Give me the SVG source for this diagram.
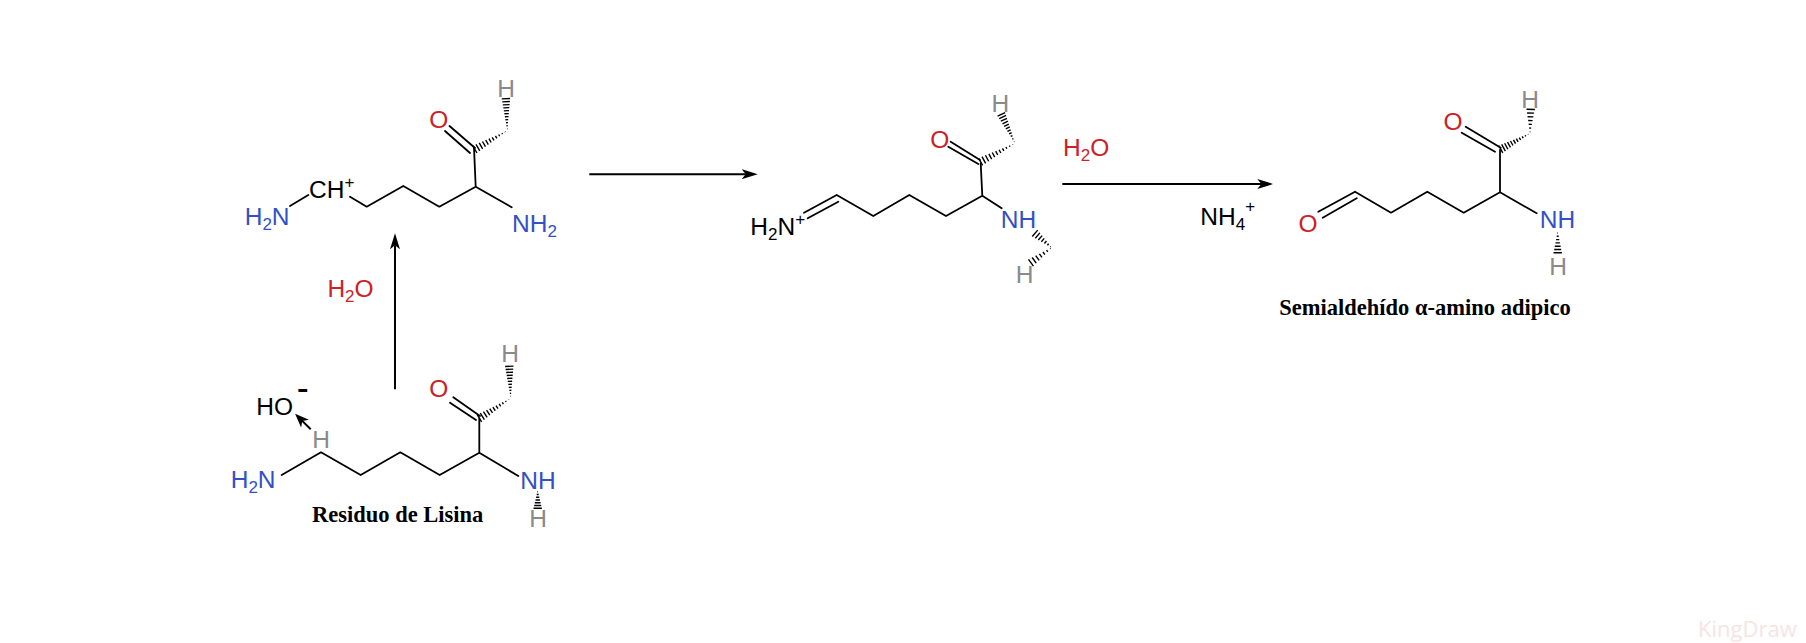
<svg xmlns="http://www.w3.org/2000/svg" width="1806" height="643" viewBox="0 0 1806 643">
<style>
text{font-family:"Liberation Sans",Arial,sans-serif;font-size:24.5px;fill:#000}
.b{fill:#3450c4}.r{fill:#cc2127}.g{fill:#8a8a8a}
.c{text-anchor:middle}
.s{font-size:17px}
.cap{font-family:"Liberation Serif","Times New Roman",serif;font-weight:bold;font-size:22.5px}
.bond{fill:none;stroke:#000;stroke-width:1.8;stroke-linejoin:round;stroke-linecap:round}
.conn{fill:none;stroke:#000;stroke-width:2}
.h{fill:none;stroke:#000;stroke-width:1.4;vector-effect:non-scaling-stroke}
</style>
<defs>
<path id="hash" class="h" d="M2-.2V.2M5-.6V.6M8-1V1M11-1.4V1.4M14-1.8V1.8M17-2.2V2.2M20-2.6V2.6M23-3V3M26-3.4V3.4M29-3.8V3.8M32-4.2V4.2"/>
<path id="hash-s" class="h" d="M2-.3V.3M7-1V1M12-1.6V1.6M17-2.2V2.2M22-2.9V2.9M27-3.5V3.5M32-4.2V4.2"/>
<marker id="ah" markerUnits="userSpaceOnUse" markerWidth="16" markerHeight="10" viewBox="0 0 16 10" refX="4" refY="5" orient="auto"><path d="M0,0L16,5L0,10L4,5z" fill="#000"/></marker>
<marker id="as" markerUnits="userSpaceOnUse" markerWidth="14" markerHeight="11" viewBox="0 0 14 11" refX="4" refY="5.5" orient="auto"><path d="M0,0L14,5.5L0,11L4,5.5z" fill="#000"/></marker>
</defs>
<rect width="1806" height="643" fill="#fff"/>

<g id="connectors">
<line class="conn" x1="395" y1="389.3" x2="395" y2="245.3" marker-end="url(#ah)"/>
<line class="conn" x1="589.3" y1="174.2" x2="745.7" y2="174.2" marker-end="url(#ah)"/>
<line class="conn" x1="1062.3" y1="184" x2="1261.3" y2="184" marker-end="url(#ah)"/>
<line class="conn" x1="310.7" y1="429.3" x2="302.2" y2="420.9" marker-end="url(#as)"/>
</g>

<g id="lisina">
<path class="bond" d="M281.7,475L321,452.3L360.7,475L400.3,452.3L439.7,475L479.3,452.7L518.3,476M479.3,452.7V418.3M480,416L453.3,397.3M476,420L450,402.7"/>
<use href="#hash" transform="translate(510.7,398.3) rotate(147.5) scale(1.16,1)"/>
<use href="#hash" transform="translate(510.7,398.3) rotate(-92.5)"/>
<use href="#hash-s" transform="translate(537.7,490.7) rotate(90) scale(.55,1)"/>
<text x="230.7" y="488.3" class="b">H<tspan class="s" dy="5">2</tspan><tspan dy="-5">N</tspan></text>
<text x="321" y="448.3" class="g c">H</text>
<text x="438.7" y="396.7" class="r c">O</text>
<text x="510" y="362.3" class="g c">H</text>
<text x="520.3" y="489.3" class="b">NH</text>
<text x="538" y="527.3" class="g c">H</text>
<text x="312" y="521.7" class="cap">Residuo de Lisina</text>
</g>

<g id="hidroxido">
<text x="256.3" y="415">HO</text>
<text x="302.7" y="400" class="c" style="font-size:36px">-</text>
</g>

<g id="carbocation">
<path class="bond" d="M290,206L308.3,195M350,196.7L366.7,206.7L403.3,186L439.3,206.7L475.7,186.7L511.7,207.3M475.7,186.7L474,148M475,148L449.5,126M470,153L445,131"/>
<use href="#hash" transform="translate(507.3,130.7) rotate(150.1) scale(1.17,1)"/>
<use href="#hash" transform="translate(507.3,130.7) rotate(-92.4)"/>
<text x="244.7" y="225" class="b">H<tspan class="s" dy="5">2</tspan><tspan dy="-5">N</tspan></text>
<text x="309" y="198.3">CH<tspan class="s" dy="-10">+</tspan></text>
<text x="512" y="231.7" class="b">NH<tspan class="s" dy="5">2</tspan></text>
<text x="438.7" y="128.3" class="r c">O</text>
<text x="506" y="96.7" class="g c">H</text>
</g>

<g id="imina">
<path class="bond" d="M804,212.7L836.7,195M807.7,218.3L838.3,201.7M836.7,195L873.3,216L909.3,195L946,216L982.3,195.7L1001.7,208.3M982.3,195.7L980.7,163.3M980,160L950.7,141.7M978.3,164L948.3,146.7"/>
<use href="#hash" transform="translate(1015,143.3) rotate(151.8) scale(1.22,1)"/>
<use href="#hash" transform="translate(1015,143.3) rotate(-115.2)"/>
<use href="#hash-s" transform="translate(1051.7,247.7) rotate(-139.2) scale(.69,1)"/>
<use href="#hash-s" transform="translate(1051.7,247.7) rotate(144.1) scale(.8,1)"/>
<text x="750.3" y="235">H<tspan class="s" dy="5">2</tspan><tspan dy="-5">N</tspan><tspan class="s" dy="-10">+</tspan></text>
<text x="939.7" y="148.3" class="r c">O</text>
<text x="1000.3" y="112.3" class="g c">H</text>
<text x="1000.7" y="228.3" class="b">NH</text>
<text x="1024.7" y="283.3" class="g c">H</text>
</g>

<g id="semialdehido">
<path class="bond" d="M1318.3,211.7L1355,191.7M1322.7,217.7L1356.7,198.3M1355,191.7L1391,212.7L1427.3,191.7L1463.7,212.7L1500,192.3L1536.7,213.3M1500,192.3V150M1500.7,147.7L1465.7,126.7M1495,151.7L1461.7,132.7"/>
<use href="#hash" transform="translate(1530,133.3) rotate(151.4) scale(1.04,1)"/>
<use href="#hash-s" transform="translate(1530,133.3) rotate(-88.3) scale(.75,1)"/>
<use href="#hash-s" transform="translate(1557.7,231.7) rotate(90) scale(.66,1)"/>
<text x="1308" y="232.3" class="r c">O</text>
<text x="1453" y="130" class="r c">O</text>
<text x="1530" y="107.7" class="g c">H</text>
<text x="1539.7" y="228.3" class="b">NH</text>
<text x="1558" y="275" class="g c">H</text>
<text x="1279.3" y="315" class="cap">Semialdehído α-amino adipico</text>
</g>

<g id="reactivos">
<text x="327.4" y="296.7" class="r">H<tspan class="s" dy="5">2</tspan><tspan dy="-5">O</tspan></text>
<text x="1063" y="156" class="r">H<tspan class="s" dy="5">2</tspan><tspan dy="-5">O</tspan></text>
<text x="1200.3" y="225">NH<tspan class="s" dy="5">4</tspan><tspan class="s" dy="-18">+</tspan></text>
</g>

<text id="watermark" x="1698" y="636.7" style="font-family:'Open Sans',sans-serif;font-size:22px;fill:#f6e4e4">KingDraw</text>
</svg>
